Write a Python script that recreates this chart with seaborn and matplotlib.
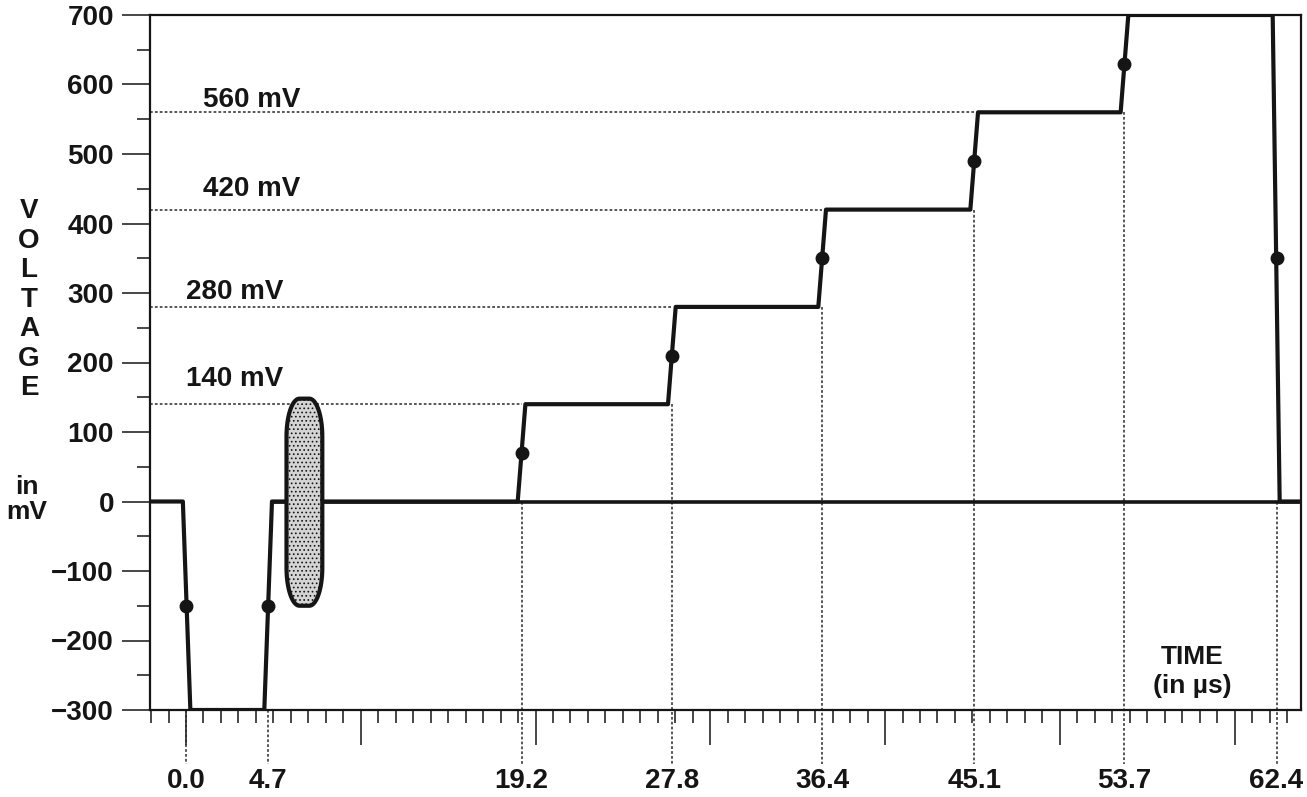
import numpy as np
import pandas as pd
import matplotlib
matplotlib.use('Agg')
import matplotlib.pyplot as plt
from matplotlib.ticker import MultipleLocator
import seaborn as sns

# waveform vertices (time in us, voltage in mV)
wave_t = [-2.06, -0.18, 0.25, 4.48, 4.92, 18.98, 19.42, 27.58, 28.02, 36.18, 36.62,
          44.88, 45.32, 53.48, 53.92, 62.18, 62.58, 63.8]
wave_v = [0, 0, -300, -300, 0, 0, 140, 140, 280, 280, 420, 420, 560, 560, 700, 700, 0, 0]

# marked transition points
edge_t = [0.0, 4.7, 19.2, 27.8, 36.4, 45.1, 53.7, 62.4]
edge_v = [-150, -150, 70, 210, 350, 490, 630, 350]
# level the dotted drop line starts from, per edge
drop_from = [-300, -300, 0, 140, 280, 420, 560, 0]

# reference levels
levels = [140, 280, 420, 560]
level_end = [19.2, 27.8, 36.4, 45.1]
level_text_x = [0.0, 0.0, 1.0, 1.0]
level_text_y = [166, 291, 440, 567]

# shaded capsule: left, right, bottom, top
box_x0, box_x1 = 5.75, 7.8
box_y0, box_y1 = -150, 148

XMIN, XMAX = -2.06, 63.8
YMIN, YMAX = -300, 700

sns.set_theme(style='white')
plt.rcParams['font.family'] = ['Liberation Sans', 'DejaVu Sans']
plt.rcParams['font.weight'] = 'bold'
plt.rcParams['hatch.color'] = '#505050'
plt.rcParams['hatch.linewidth'] = 0.7
ink = '#151515'
fs = 20

fig = plt.figure(figsize=(13.07, 7.97), dpi=100)
ax = fig.add_axes([150 / 1307, 87 / 797, 1151 / 1307, 695 / 797])

df = pd.DataFrame({'t': wave_t, 'v': wave_v})
sns.lineplot(data=df, x='t', y='v', ax=ax, color=ink, lw=3.0, sort=False,
             estimator=None, solid_joinstyle='round', zorder=4)
ax.plot(edge_t, edge_v, 'o', color=ink, ms=9, zorder=5)
ax.hlines(0, 4.9, XMAX, color=ink, lw=2.6, zorder=3)

dot = dict(color='#2a2a2a', lw=1.1, ls=(0, (1.8, 1.4)))
for lv, xe, tx, ty in zip(levels, level_end, level_text_x, level_text_y):
    ax.plot([XMIN, xe], [lv, lv], **dot, zorder=2)
    ax.text(tx, ty, f'{lv} mV', fontsize=fs, color=ink, va='baseline', ha='left')

for t, v0 in zip(edge_t, drop_from):
    ax.plot([t, t], [v0, -377], **dot, clip_on=False, zorder=2)
    ax.text(t, -384, f'{t:.1f}', fontsize=fs, color=ink, ha='center', va='top',
            clip_on=False)

# shaded capsule with elliptic corners (radii given in pixels)
px_x = 1151 / (XMAX - XMIN)
px_y = 695 / (YMAX - YMIN)
rx, ry = 13 / px_x, 38 / px_y
th = np.linspace(0, np.pi / 2, 20)
cx = [box_x1 - rx, box_x0 + rx, box_x0 + rx, box_x1 - rx]
cy = [box_y1 - ry, box_y1 - ry, box_y0 + ry, box_y0 + ry]
outline_x, outline_y = [], []
for k in range(4):
    a = th + k * np.pi / 2
    outline_x += list(cx[k] + rx * np.cos(a))
    outline_y += list(cy[k] + ry * np.sin(a))
ax.fill(outline_x, outline_y, facecolor='#d4d4d4', edgecolor=ink, lw=3.0,
        hatch='....', zorder=6)

ax.set_xlim(XMIN, XMAX)
ax.set_ylim(YMIN, YMAX)
ax.set_xlabel('')
ax.set_ylabel('')

ax.xaxis.set_major_locator(MultipleLocator(10))
ax.xaxis.set_minor_locator(MultipleLocator(1))
ax.yaxis.set_minor_locator(MultipleLocator(50))
ax.tick_params(axis='x', which='major', direction='out', length=25, width=1.1,
               color=ink, labelbottom=False, bottom=True)
ax.tick_params(axis='x', which='minor', direction='out', length=9.5, width=1.1,
               color=ink, bottom=True)
ax.tick_params(axis='y', which='major', direction='out', length=20, width=1.1,
               color=ink, labelsize=fs, labelcolor=ink, pad=6, left=True)
ax.tick_params(axis='y', which='minor', direction='out', length=9.5, width=1.1,
               color=ink, left=True)
yt = list(range(-300, 701, 100))
ax.set_yticks(yt)
ax.set_yticklabels([str(v).replace('-', '\u2212') for v in yt], fontweight='bold')

for sp in ax.spines.values():
    sp.set_color(ink)
    sp.set_linewidth(1.6)

# y axis title, stacked letters
for i, ch in enumerate('VOLTAGE'):
    fig.text(29 / 1307, 1 - (211 + i * 29.5) / 797, ch, fontsize=fs, color=ink,
             ha='center', va='center')
fig.text(27 / 1307, 1 - 487 / 797, 'in', fontsize=fs - 1, color=ink, ha='center', va='center')
fig.text(27 / 1307, 1 - 512 / 797, 'mV', fontsize=fs - 1, color=ink, ha='center', va='center')

# x axis title in the corner
fig.text(1192 / 1307, 1 - 657 / 797, 'TIME', fontsize=fs - 1, color=ink,
         ha='center', va='center')
fig.text(1192 / 1307, 1 - 686 / 797, '(in \u00b5s)', fontsize=fs - 1, color=ink,
         ha='center', va='center')

fig.savefig('out.png', dpi=100)
